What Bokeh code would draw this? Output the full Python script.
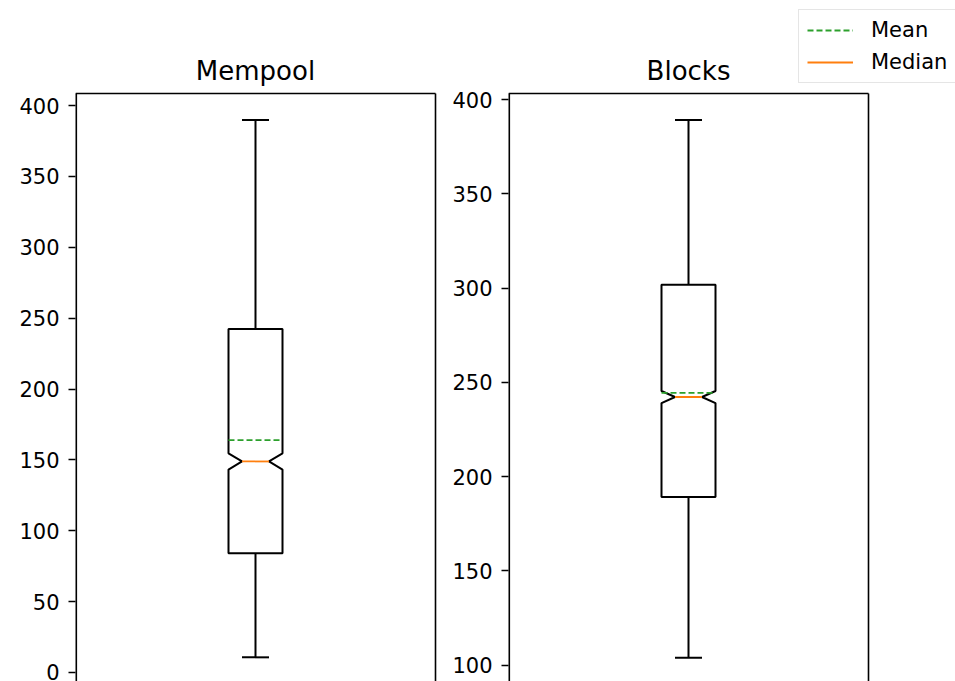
import numpy as np
from bokeh.plotting import figure
from bokeh.models import FixedTicker, Legend, LegendItem, Range1d, Label
from bokeh.layouts import row
from bokeh.embed import file_html
from bokeh.resources import INLINE

# ---- data ----
titles = ["Mempool", "Blocks"]
positions = [1, 1]
box_width = 0.15
whisker_lo = [10.7, 103.9]
q1 = [84.2, 189.2]
notch_lo = [143.2, 239.0]
median = [148.9, 242.2]
notch_hi = [154.6, 245.4]
mean = [164.0, 244.4]
q3 = [242.4, 301.8]
whisker_hi = [389.8, 389.1]
y_ticks = [[0, 50, 100, 150, 200, 250, 300, 350, 400],
           [100, 150, 200, 250, 300, 350, 400]]
y_limits = [(-6.35, 408.5), (91.3, 403.2)]
legend_labels = ["Mean", "Median"]

GREEN = "#2ca02c"
ORANGE = "#ff7f0e"
FONT = "DejaVu Sans"
LW = 1.6

HEIGHT = 681
FRAME_W = 360
FRAME_TOP = 93
fig_widths = [440, 515]
border_left = [75, 68]


def make_panel(i):
    """Plotting area spans up to the top and right edges of the canvas; the
    visible axes box is drawn from the axis limits so the legend is not clipped."""
    W = fig_widths[i]
    L = border_left[i]
    yb, yt = y_limits[i]
    xl, xr = positions[i] - 0.5, positions[i] + 0.5
    px_per_unit = (HEIGHT - FRAME_TOP) / (yt - yb)
    y_ext = yb + HEIGHT / px_per_unit
    x_ext = xl + (W - L) / FRAME_W
    p = figure(width=W, height=HEIGHT, output_backend="svg",
               toolbar_location=None, x_axis_location=None,
               x_range=Range1d(xl, x_ext), y_range=Range1d(yb, y_ext),
               min_border_left=L, min_border_right=0,
               min_border_top=0, min_border_bottom=0)
    p.outline_line_color = None
    p.grid.visible = False

    ya = p.yaxis[0]
    ya.ticker = FixedTicker(ticks=y_ticks[i])
    ya.major_label_text_font = FONT
    ya.major_label_text_font_size = "21px"
    ya.major_label_text_color = "black"
    ya.major_tick_out = 7
    ya.major_tick_in = 0
    ya.minor_tick_out = 0
    ya.minor_tick_in = 0
    ya.major_tick_line_width = LW
    ya.axis_line_color = None
    ya.major_label_standoff = 9

    # axes box: top + right, then left (twice as wide: half of it is outside the area)
    p.segment(x0=[xl, xr], y0=[yt, yb], x1=[xr, xr], y1=[yt, yt],
              line_color="black", line_width=LW)
    p.segment(x0=[xl], y0=[yb], x1=[xl], y1=[yt], line_color="black", line_width=2 * LW)

    x = positions[i]
    w = box_width
    xs = np.array([x - w / 2, x + w / 2, x + w / 2, x + w / 4, x + w / 2,
                   x + w / 2, x - w / 2, x - w / 2, x - w / 4, x - w / 2])
    ys = np.array([q1[i], q1[i], notch_lo[i], median[i], notch_hi[i],
                   q3[i], q3[i], notch_hi[i], median[i], notch_lo[i]])
    p.patch(xs, ys, fill_color="white", line_color="black", line_width=2)
    p.segment(x0=[x, x], y0=[q1[i], q3[i]], x1=[x, x],
              y1=[whisker_lo[i], whisker_hi[i]], line_color="black", line_width=2)
    p.segment(x0=[x - w / 4, x - w / 4], y0=[whisker_lo[i], whisker_hi[i]],
              x1=[x + w / 4, x + w / 4], y1=[whisker_lo[i], whisker_hi[i]],
              line_color="black", line_width=2)
    med_r = p.segment(x0=[x - w / 4], y0=[median[i]], x1=[x + w / 4], y1=[median[i]],
                      line_color=ORANGE, line_width=1.8)
    mean_r = p.segment(x0=[x - w / 2], y0=[mean[i]], x1=[x + w / 2], y1=[mean[i]],
                       line_color=GREEN, line_width=1.8, line_dash="6 3")

    p.add_layout(Label(x=x, y=yt, y_offset=23, text=titles[i],
                       text_align="center", text_baseline="alphabetic",
                       text_font=FONT, text_font_size="26px", text_color="black"))
    return p, mean_r, med_r


p1, _, _ = make_panel(0)
p2, mean_r, med_r = make_panel(1)

legend = Legend(items=[LegendItem(label=legend_labels[0], renderers=[mean_r]),
                       LegendItem(label=legend_labels[1], renderers=[med_r])],
                location=(798 - (fig_widths[0] + border_left[1]), HEIGHT - 83))
legend.label_text_font = FONT
legend.label_text_font_size = "21px"
legend.label_text_color = "black"
legend.glyph_width = 46
legend.glyph_height = 24
legend.label_height = 24
legend.label_standoff = 18
legend.spacing = 8
legend.padding = 8
legend.margin = 0
legend.border_line_color = "#cccccc"
legend.border_line_width = 1.5
legend.background_fill_color = "white"
legend.background_fill_alpha = 0.8
p2.add_layout(legend, "center")

layout = row(p1, p2)
open("out.html", "w").write(file_html(layout, INLINE))
